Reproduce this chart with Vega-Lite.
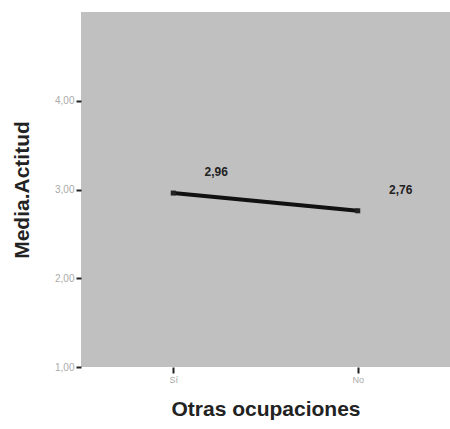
{
  "$schema": "https://vega.github.io/schema/vega-lite/v6.json",
  "autosize": {"type": "none"},
  "padding": {"left": 81, "top": 12, "right": 0, "bottom": 62},
  "width": 369,
  "height": 355,
  "background": "white",
  "config": {
    "view": {"fill": "#c0c0c0", "stroke": null},
    "font": "Liberation Sans"
  },
  "data": {"values": [
    {"ocup": "Sí", "media": 2.96, "label": "2,96"},
    {"ocup": "No", "media": 2.76, "label": "2,76"}
  ]},
  "encoding": {
    "x": {"field": "ocup", "type": "nominal", "sort": ["Sí", "No"],
      "scale": {"type": "point", "padding": 0.5},
      "axis": {"title": "Otras ocupaciones", "titleFontSize": 21, "titleFontWeight": "bold", "titleColor": "#222", "titlePadding": 14,
        "labelAngle": 0, "labelFontSize": 9, "labelColor": "#aaa", "tickColor": "#222", "tickSize": 6, "tickWidth": 2, "domain": false, "grid": false}},
    "y": {"field": "media", "type": "quantitative",
      "scale": {"domain": [1, 5], "nice": false},
      "axis": {"title": "Media.Actitud", "titleFontSize": 21, "titleFontWeight": "bold", "titleColor": "#222", "titlePadding": 22,
        "values": [1, 2, 3, 4], "labelExpr": "replace(format(datum.value, '.2f'), '.', ',')",
        "labelFontSize": 10, "labelColor": "#aaa", "tickColor": "#222", "tickSize": 5, "tickWidth": 2, "domain": false, "grid": false}}
  },
  "layer": [
    {"mark": {"type": "line", "color": "#111", "strokeWidth": 4}},
    {"mark": {"type": "point", "shape": "square", "size": 25, "filled": true, "color": "#222", "opacity": 1}},
    {"mark": {"type": "text", "dx": 43, "dy": -21, "fontSize": 12, "fontWeight": "bold", "color": "#222"},
      "encoding": {"text": {"field": "label"}}}
  ]
}
